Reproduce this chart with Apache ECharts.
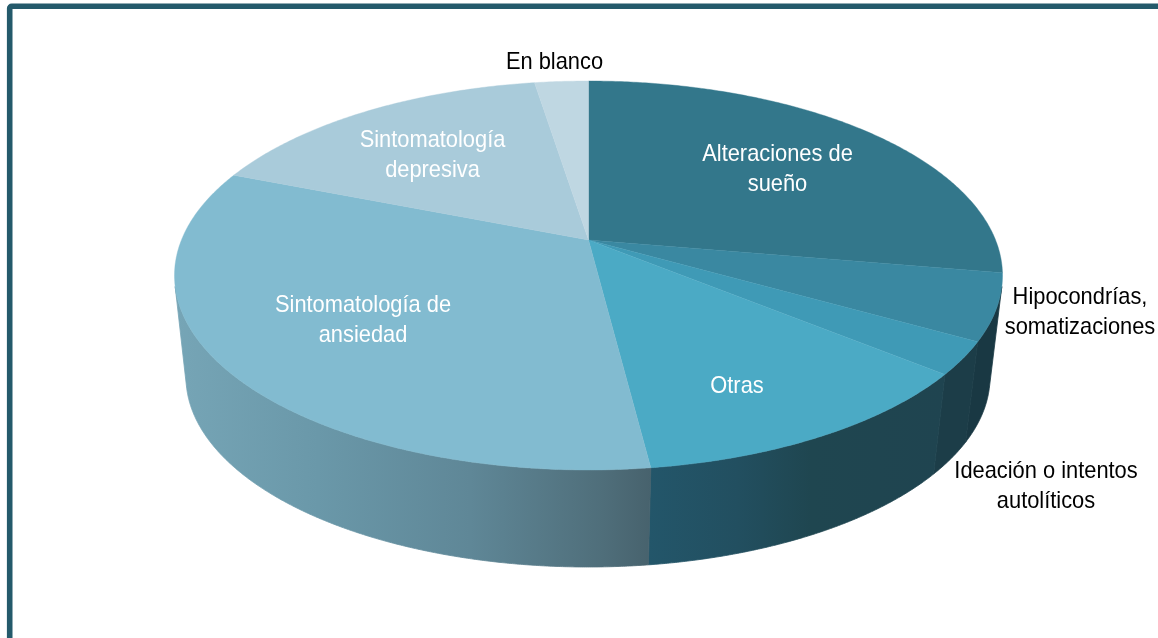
<!DOCTYPE html>
<html>
<head>
<meta charset="utf-8">
<style>html,body{margin:0;padding:0;background:#fff}#c{width:1158px;height:638px}</style>
<script src="https://cdn.jsdelivr.net/npm/echarts@6/dist/echarts.min.js"></script>
</head>
<body>
<div id="c"></div>
<script>
// Data (percent of responses)
const categories = ['Alteraciones de\nsueño', 'Hipocondrías,\nsomatizaciones', 'Ideación o intentos\nautolíticos', 'Otras', 'Sintomatología de\nansiedad', 'Sintomatología\ndepresiva', 'En blanco'];
const values = [27.7, 5.5, 2.7, 12.1, 33.0, 16.5, 2.5];

// Styles
const topColors = ['#33778b', '#3a88a1', '#3f9ab6', '#4baac5', '#82bbd0', '#a9cbda', '#bfd7e2'];
const wallStops = [
  [[0, '#2a6070'], [1, '#2a6070']],
  [[0, '#193843'], [1, '#193843']],
  [[0, '#1c3d48'], [1, '#1c3d48']],
  [[0, '#23566a'], [0.3, '#224f60'], [0.55, '#1f4650'], [1, '#1f4450']],
  [[0, '#76a5b6'], [0.3, '#6a98a9'], [0.62, '#5f8797'], [0.9, '#4f6e7a'], [1, '#47626d']],
  [[0, '#8fb0bf'], [1, '#8fb0bf']],
  [[0, '#a0bcc8'], [1, '#a0bcc8']]
];
const labelColors = ['#fff', '#000', '#000', '#fff', '#fff', '#fff', '#000'];
const labelPlaces = [[777.5, 169], [1080, 312], [1046, 486], [737, 386], [363, 320], [432.5, 155], [554.5, 62]];

// Layout of the tilted disc: k shifts the projected centre (perspective)
const upper = { cx: 588.5, cy: 275.5, rx: 414, ry: 194.5, k: -0.1825 };
const lower = { cx: 588, cy: 377, rx: 402, ry: 190, k: -0.18 };
const apex = project(upper, 0, true);

function project(e, deg, centre) {
  const t = deg * Math.PI / 180;
  const u = centre ? 0 : Math.sin(t), v = centre ? 0 : -Math.cos(t);
  const d = 1 + e.k * v;
  return [e.cx + e.rx * u * Math.sqrt(1 - e.k * e.k) / d, e.cy + e.ry * (v + e.k) / d];
}
const total = values.reduce((a, b) => a + b, 0);
const angleRange = i => {
  let s = 0;
  for (let j = 0; j < i; j++) s += values[j];
  return [s / total * 360, (s + values[i]) / total * 360];
};
function sweep(a, b, step) {
  const out = [];
  for (let t = a; t < b; t += step) out.push(t);
  out.push(b);
  return out;
}
function wallVisible(t) {
  const p = project(upper, t), p2 = project(upper, t + 0.1), q = project(lower, t);
  return (p2[0] - p[0]) * (q[1] - p[1]) - (p2[1] - p[1]) * (q[0] - p[0]) < 0;
}
const walls = {
  type: 'custom', name: 'walls', coordinateSystem: 'none', silent: true, z: 1,
  data: values,
  renderItem(params) {
    const i = params.dataIndex, r = angleRange(i);
    const ts = sweep(r[0], r[1], 0.25).filter(wallVisible);
    if (ts.length < 2) return { type: 'group', children: [] };
    const top = ts.map(t => project(upper, t));
    const bot = ts.map(t => project(lower, t)).reverse();
    const pts = top.concat(bot);
    const xs = pts.map(p => p[0]);
    const fill = new echarts.graphic.LinearGradient(Math.min(...xs), 0, Math.max(...xs), 0,
      wallStops[i].map(s => ({ offset: s[0], color: s[1] })), true);
    return { type: 'polygon', shape: { points: pts }, style: { fill, stroke: fill, lineWidth: 0.8 } };
  }
};
const tops = {
  type: 'custom', name: 'tops', coordinateSystem: 'none', silent: true, z: 2,
  data: values,
  renderItem(params) {
    const i = params.dataIndex, r = angleRange(i);
    const pts = [apex].concat(sweep(r[0], r[1], 0.5).map(t => project(upper, t)));
    return { type: 'polygon', shape: { points: pts }, style: { fill: topColors[i], stroke: topColors[i], lineWidth: 0.4 } };
  }
};
const labels = {
  type: 'custom', name: 'labels', coordinateSystem: 'none', silent: true, z: 3,
  data: categories.map((c, i) => [values[i]]),
  renderItem(params) {
    const i = params.dataIndex;
    return {
      type: 'text', x: labelPlaces[i][0], y: labelPlaces[i][1], scaleX: 0.91,
      style: {
        text: categories[i], fill: labelColors[i], align: 'center', verticalAlign: 'middle',
        fontFamily: '"Liberation Sans"', fontSize: 24, lineHeight: 30
      }
    };
  }
};
const chart = echarts.init(document.getElementById('c'), null, { renderer: 'canvas' });
chart.setOption({
  backgroundColor: '#fff',
  animation: false,
  graphic: [{
    type: 'rect', z: 0, silent: true,
    shape: { x: 9.7, y: 6.3, width: 1400, height: 900, r: 2 },
    style: { fill: 'none', stroke: '#245a6b', lineWidth: 5.6 }
  }],
  series: [walls, tops, labels]
});
</script>
</body>
</html>
